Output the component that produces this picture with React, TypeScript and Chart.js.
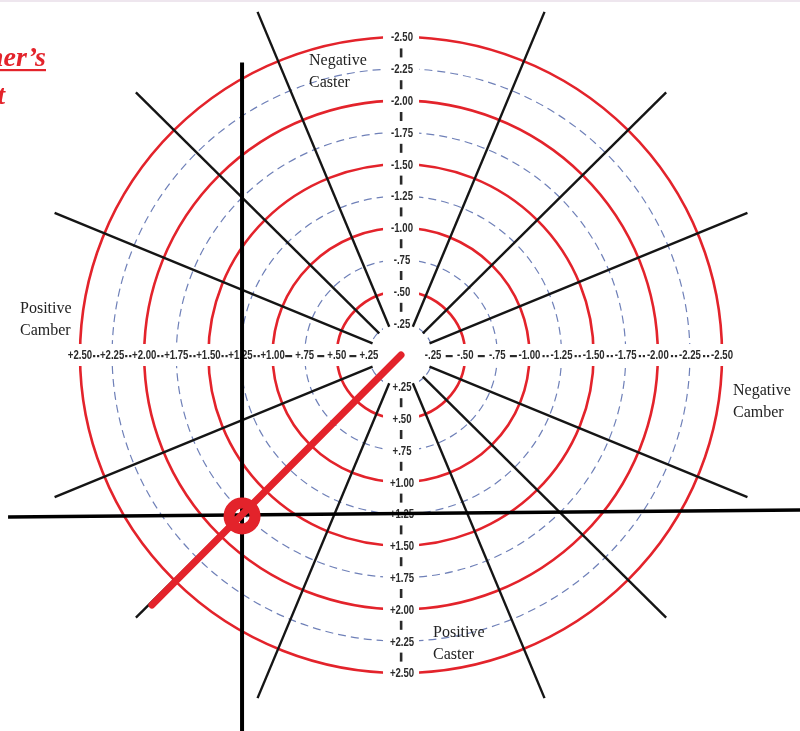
import React, { useEffect, useRef } from "react";
import { Chart, registerables } from "chart.js";

Chart.register(...registerables);

// ---- data ----
const solidRings = [0.5, 1.0, 1.5, 2.0, 2.5];
const dashedRings = [0.25, 0.75, 1.25, 1.75, 2.25];

const camberTicks = [2.5, 2.25, 2.0, 1.75, 1.5, 1.25, 1.0, 0.75, 0.5, 0.25, -0.25, -0.5, -0.75, -1.0, -1.25, -1.5, -1.75, -2.0, -2.25, -2.5];
const camberTickLabels = ["+2.50", "+2.25", "+2.00", "+1.75", "+1.50", "+1.25", "+1.00", "+.75", "+.50", "+.25", "-.25", "-.50", "-.75", "-1.00", "-1.25", "-1.50", "-1.75", "-2.00", "-2.25", "-2.50"];

const casterTicks = [-2.5, -2.25, -2.0, -1.75, -1.5, -1.25, -1.0, -0.75, -0.5, -0.25, 0.25, 0.5, 0.75, 1.0, 1.25, 1.5, 1.75, 2.0, 2.25, 2.5];
const casterTickLabels = ["-2.50", "-2.25", "-2.00", "-1.75", "-1.50", "-1.25", "-1.00", "-.75", "-.50", "-.25", "+.25", "+.50", "+.75", "+1.00", "+1.25", "+1.50", "+1.75", "+2.00", "+2.25", "+2.50"];

const spokeAngles = [22.5, 45, 67.5, 112.5, 135, 157.5, 202.5, 225, 247.5, 292.5, 315, 337.5];
const spokeInner = 0.24;
const spokeOuter = 2.92;

const referenceVertical = [{ x: 1.238, y: -2.3 }, { x: 1.238, y: 2.96 }];
const referenceHorizontal = [{ x: 3.06, y: 1.274 }, { x: -3.107, y: 1.219 }];
const adjustmentLine = [{ x: 0, y: 0 }, { x: 1.94, y: 1.965 }];
const targetPoint = [{ x: 1.238, y: 1.266 }];

// view extents (camber positive to the left, caster positive downward)
const camberLeft = 3.123;
const camberRight = -3.107;
const casterTop = -2.791;
const casterBottom = 2.956;

const RED = "#e3232b";
const BLUE = "#6f80b8";
const LABEL_FONT = 'bold 12px "Liberation Sans", Arial, sans-serif';
const NARROW = 0.8;
const SERIF = '"Liberation Serif", "Times New Roman", serif';

function narrowText(ctx: any, text: string, x: number, y: number) {
  ctx.save();
  ctx.translate(x, y);
  ctx.scale(NARROW, 1);
  ctx.fillText(text, 0, 0);
  ctx.restore();
}

const wheelPlugin = {
  id: "wheelGrid",
  beforeDatasetsDraw(chart: any) {
    const { ctx } = chart;
    const xs = chart.scales.x;
    const ys = chart.scales.y;
    const cx = xs.getPixelForValue(0);
    const cy = ys.getPixelForValue(0);
    ctx.save();

    // faint top border
    ctx.strokeStyle = "#eee6ee";
    ctx.lineWidth = 2;
    ctx.beginPath();
    ctx.moveTo(0, 1);
    ctx.lineTo(800, 1);
    ctx.stroke();

    // dashed rings
    ctx.strokeStyle = BLUE;
    ctx.lineWidth = 1.2;
    ctx.setLineDash([8, 5]);
    dashedRings.forEach((r) => {
      const rx = Math.abs(xs.getPixelForValue(r) - cx);
      const ry = Math.abs(ys.getPixelForValue(r) - cy);
      ctx.beginPath();
      ctx.ellipse(cx, cy, rx, ry, 0, 0, Math.PI * 2);
      ctx.stroke();
    });
    ctx.setLineDash([]);

    // solid rings
    ctx.strokeStyle = RED;
    ctx.lineWidth = 2.6;
    solidRings.forEach((r) => {
      const rx = Math.abs(xs.getPixelForValue(r) - cx);
      const ry = Math.abs(ys.getPixelForValue(r) - cy);
      ctx.beginPath();
      ctx.ellipse(cx, cy, rx, ry, 0, 0, Math.PI * 2);
      ctx.stroke();
    });

    // axis labels
    ctx.font = LABEL_FONT;
    ctx.textAlign = "center";
    ctx.textBaseline = "middle";

    // horizontal (camber)
    camberTicks.forEach((v, i) => {
      const px = xs.getPixelForValue(v);
      const w = ctx.measureText(camberTickLabels[i]).width * NARROW;
      ctx.fillStyle = "#fff";
      ctx.fillRect(px - w / 2 - 1, cy - 11, w + 2, 22);
      ctx.fillStyle = "#2a2a2a";
      narrowText(ctx, camberTickLabels[i], px, cy + 1);
    });
    for (let i = 0; i < camberTicks.length - 1; i++) {
      const a = camberTicks[i];
      const b = camberTicks[i + 1];
      if (a * b < 0) continue;
      const mid = (a + b) / 2;
      const px = xs.getPixelForValue(mid);
      ctx.fillStyle = "#2a2a2a";
      if (Math.abs(mid) < 1) {
        ctx.fillRect(px - 3.5, cy, 7, 2.2);
      } else {
        ctx.fillRect(px - 3, cy, 2.2, 2.2);
        ctx.fillRect(px + 1, cy, 2.2, 2.2);
      }
    }

    // vertical (caster)
    casterTicks.forEach((v, i) => {
      const py = ys.getPixelForValue(v);
      ctx.fillStyle = "#fff";
      ctx.fillRect(cx - 18, py - 7, 36, 14);
      ctx.fillStyle = "#2a2a2a";
      narrowText(ctx, casterTickLabels[i], cx + 1, py + 1);
    });
    for (let i = 0; i < casterTicks.length - 1; i++) {
      const a = casterTicks[i];
      const b = casterTicks[i + 1];
      if (a * b < 0) continue;
      const py = ys.getPixelForValue((a + b) / 2);
      ctx.fillStyle = "#2a2a2a";
      ctx.fillRect(cx - 1.2, py - 4.5, 2.6, 9);
    }

    // annotations
    ctx.fillStyle = "#222";
    ctx.textAlign = "left";
    ctx.textBaseline = "alphabetic";
    ctx.font = `16px ${SERIF}`;
    ctx.fillText("Negative", 309, 65);
    ctx.fillText("Caster", 309, 87);
    ctx.fillText("Positive", 20, 313);
    ctx.fillText("Camber", 20, 335);
    ctx.fillText("Negative", 733, 395);
    ctx.fillText("Camber", 733, 417);
    ctx.fillText("Positive", 433, 637);
    ctx.fillText("Caster", 433, 659);

    // clipped title
    ctx.fillStyle = RED;
    ctx.textAlign = "right";
    ctx.font = `italic bold 28px ${SERIF}`;
    ctx.fillText("Customer\u2019s", 46, 66);
    ctx.fillText("Chart", 5, 104);
    ctx.fillRect(0, 69, 46, 2.2);

    ctx.restore();
  },
};

function spokeData(angleDeg: number) {
  const a = (angleDeg * Math.PI) / 180;
  const dx = Math.cos(a);
  const dy = Math.sin(a);
  return [
    { x: -dx * spokeInner, y: -dy * spokeInner },
    { x: -dx * spokeOuter, y: -dy * spokeOuter },
  ];
}

export default function App() {
  const ref = useRef<HTMLCanvasElement | null>(null);

  useEffect(() => {
    if (!ref.current) return;
    const spokes = spokeAngles.map((ang) => ({
      data: spokeData(ang),
      showLine: true,
      borderColor: "#151515",
      borderWidth: 2.4,
      pointRadius: 0,
      order: 5,
    }));
    const chart = new Chart(ref.current, {
      type: "scatter",
      data: {
        datasets: [
          ...spokes,
          {
            data: referenceVertical,
            showLine: true,
            borderColor: "#000",
            borderWidth: 4,
            pointRadius: 0,
            order: 4,
          },
          {
            data: referenceHorizontal,
            showLine: true,
            borderColor: "#000",
            borderWidth: 3.5,
            pointRadius: 0,
            order: 4,
          },
          {
            data: adjustmentLine,
            showLine: true,
            borderColor: RED,
            borderWidth: 7,
            borderCapStyle: "round",
            pointRadius: 0,
            order: 3,
          },
          {
            data: targetPoint,
            showLine: false,
            pointRadius: 13,
            pointBorderWidth: 11,
            pointBorderColor: RED,
            pointBackgroundColor: "rgba(0,0,0,0)",
            order: 2,
          },
        ] as any,
      },
      options: {
        animation: false,
        responsive: false,
        events: [],
        layout: { padding: 0, autoPadding: false },
        plugins: { legend: { display: false }, tooltip: { enabled: false } },
        scales: {
          x: { type: "linear", display: false, min: camberRight, max: camberLeft, reverse: true },
          y: { type: "linear", display: false, min: casterTop, max: casterBottom, reverse: true },
        },
      } as any,
      plugins: [wheelPlugin],
    });
    return () => chart.destroy();
  }, []);

  return (
    <div style={{ position: "fixed", left: 0, top: 0, width: 800, height: 731, background: "#fff" }}>
      <canvas ref={ref} width={800} height={731} style={{ display: "block", width: 800, height: 731 }} />
    </div>
  );
}
